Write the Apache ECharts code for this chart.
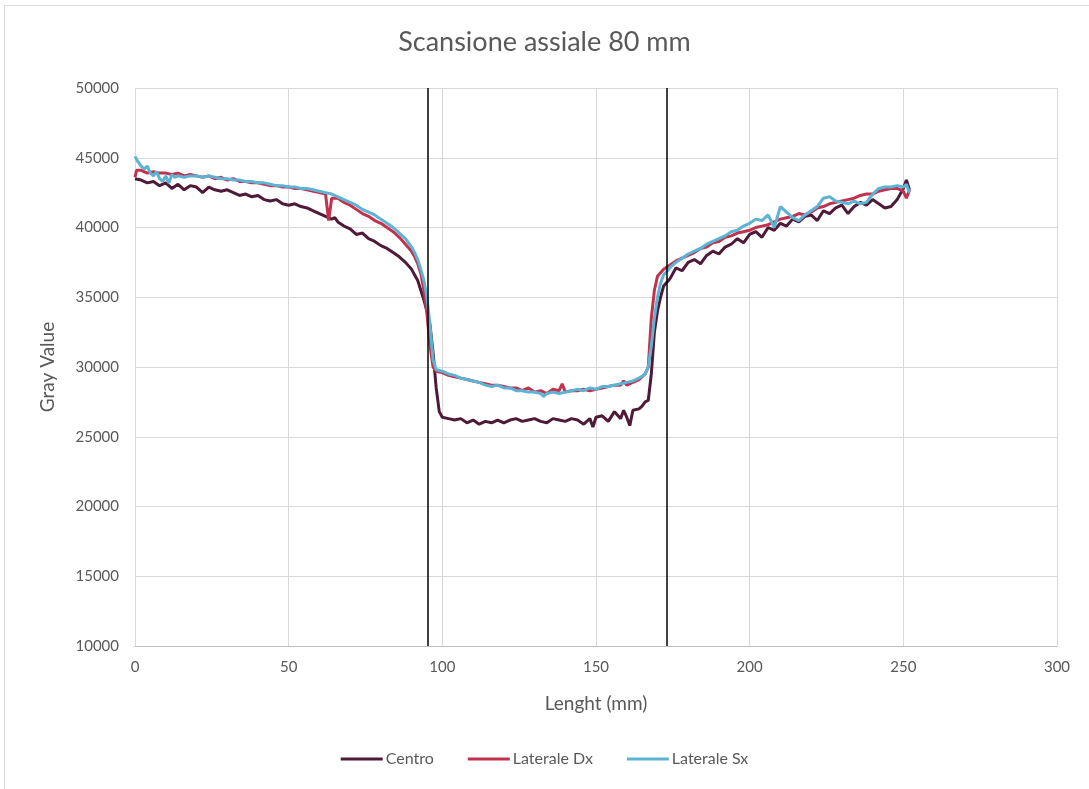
<!DOCTYPE html>
<html>
<head>
<meta charset="utf-8">
<script src="https://cdn.jsdelivr.net/npm/echarts@6/dist/echarts.min.js"></script>
<style>
  html, body { margin: 0; padding: 0; background: #fff; }
  #chart { width: 1089px; height: 789px; }
</style>
</head>
<body>
<div id="chart"></div>
<script>
// posizioni delle due linee verticali (mm)
var bordi = [95.3, 173.1];

// Centro
var centroX = [0,2,4,6,8,10,12,14,16,18,20,22,24,26,28,30,32,34,36,38,40,42,44,46,48,50,52,54,56,58,60,62,64,65,66,68,70,72,74,76,78,80,82,84,86,88,90,91,92,93,94,95,96,97,98,99,100,102,104,106,108,110,112,114,116,118,120,122,124,126,128,130,132,134,136,138,140,142,144,146,148,149,150,152,154,156,158,159,160,161,162,164,165,166,167,168,169,170,171,172,174,176,178,180,182,184,186,188,190,192,194,196,198,200,202,204,206,208,210,212,214,216,218,220,222,224,226,228,230,232,234,236,238,240,242,244,246,248,250,251,252];
var centroY = [43500,43400,43200,43300,43000,43200,42800,43100,42700,43000,42900,42500,42900,42700,42600,42700,42500,42300,42400,42200,42300,42000,41900,42000,41700,41600,41700,41500,41400,41200,41000,40800,40600,40700,40400,40100,39900,39500,39600,39200,39000,38700,38500,38200,37900,37500,37000,36600,36200,35500,34800,34000,33000,31000,28500,26800,26400,26300,26200,26300,26000,26200,25900,26100,26000,26200,26000,26200,26300,26100,26200,26300,26100,26000,26300,26200,26100,26300,26200,25900,26300,25700,26400,26500,26100,26800,26300,26900,26400,25800,26900,27000,27200,27500,27600,29500,32500,34000,35000,35800,36300,37100,36900,37500,37700,37400,38000,38300,38100,38600,38800,39200,38900,39500,39700,39300,40000,39800,40300,40100,40600,40400,40800,40900,40500,41200,41000,41400,41600,41000,41500,41800,41600,42000,41700,41400,41500,42000,42800,43400,42700];

// Laterale Dx
var dxX = [0,0.5,2,4,6,8,10,12,14,16,18,20,22,24,26,28,30,32,34,36,38,40,42,44,46,48,50,52,54,56,58,60,62,63,64,66,68,70,72,74,76,78,80,82,84,86,88,90,91,92,93,94,95,96,97,98,100,102,104,106,108,110,112,114,116,118,120,122,124,126,128,130,132,134,136,138,139,140,142,144,146,148,150,152,154,156,158,159,160,162,164,166,167,168,169,170,172,174,176,178,180,182,184,186,188,190,192,194,196,198,200,202,204,206,208,210,212,214,216,218,220,222,224,226,228,230,232,234,236,238,240,242,244,246,248,250,251,252];
var dxY = [43600,44100,44100,43900,44000,43900,43900,43800,43900,43700,43800,43700,43600,43700,43500,43600,43400,43500,43300,43300,43200,43200,43100,43000,43000,42900,42900,42800,42800,42700,42600,42500,42400,40500,42100,42100,41800,41600,41300,41000,40800,40500,40300,40000,39700,39300,38800,38300,37900,37400,36700,35500,33800,31500,30000,29700,29600,29400,29300,29200,29100,29000,28900,28800,28700,28700,28600,28500,28500,28300,28500,28200,28300,28100,28400,28300,28800,28200,28300,28300,28400,28300,28400,28500,28600,28700,28700,29000,28700,28900,29100,29500,30000,33500,35500,36500,37000,37300,37600,37800,38000,38200,38500,38600,38900,39000,39300,39400,39600,39700,39800,40000,40100,40200,40400,40600,40700,40800,41000,40900,41100,41400,41500,41700,41800,41900,42000,42100,42300,42400,42400,42600,42700,42800,42800,42600,42100,42700];

// Laterale Sx
var sxX = [0,1,2,3,4,5,6,7,8,9,10,11,12,13,14,16,18,20,22,24,26,28,30,32,34,36,38,40,42,44,46,48,50,52,54,56,58,60,62,64,66,68,70,72,74,76,78,80,82,84,86,88,90,91,92,93,94,95,96,97,98,100,102,104,106,108,110,112,114,116,118,120,122,124,126,128,130,132,133,134,136,138,140,142,144,146,148,150,152,154,156,158,160,162,164,166,167,168,169,170,171,172,174,176,178,180,182,184,186,188,190,192,194,196,198,200,202,204,206,208,210,212,214,216,218,220,222,224,226,228,230,232,234,236,238,240,242,244,246,248,250,251,252];
var sxY = [45100,44700,44400,44200,44400,43900,43700,44000,43500,43300,43700,43200,43800,43600,43700,43600,43700,43700,43600,43700,43600,43500,43500,43400,43400,43300,43300,43200,43200,43100,43000,43000,42900,42900,42800,42800,42700,42600,42500,42400,42200,42000,41800,41600,41300,41100,40900,40600,40300,40000,39600,39200,38600,38200,37700,37000,36200,35000,33000,30500,29800,29700,29500,29400,29200,29100,29000,28900,28700,28600,28700,28500,28500,28300,28300,28200,28200,28100,27900,28100,28200,28100,28200,28300,28400,28300,28500,28400,28600,28600,28700,28800,28900,29000,29200,29500,30000,31500,33500,35000,36000,36600,37100,37500,37800,38100,38300,38500,38800,39000,39200,39400,39700,39800,40100,40300,40600,40500,40900,40000,41500,41100,40700,40500,40900,41200,41500,42100,42200,41900,41800,41700,41900,41700,41800,42400,42800,42900,42900,43000,42900,43100,42500];

var seriesNames = ['Centro', 'Laterale Dx', 'Laterale Sx'];
var colori = ['#4e1a38', '#c1324e', '#5cb3d3'];

function coppie(xs, ys) {
  return xs.map(function (x, i) { return [x, ys[i]]; });
}

var chart = echarts.init(document.getElementById('chart'));
var testo = '#595959';
var font = 'Lato, "Open Sans", sans-serif';

chart.setOption({
  animation: false,
  textStyle: { fontFamily: font },
  graphic: [{
    type: 'rect',
    shape: { x: 4.5, y: 5.5, width: 1200, height: 1000 },
    style: { fill: 'none', stroke: '#d9d9d9', lineWidth: 1 },
    silent: true
  }],
  title: {
    text: 'Scansione assiale 80 mm',
    left: 'center',
    top: 24,
    textStyle: { color: testo, fontSize: 27, fontWeight: 'normal', fontFamily: font }
  },
  legend: {
    data: seriesNames,
    bottom: 17,
    left: 'center',
    icon: 'rect',
    itemWidth: 42,
    itemHeight: 3,
    itemGap: 34,
    textStyle: { color: testo, fontSize: 16, fontFamily: font, padding: [0, 0, 0, -2] }
  },
  grid: { left: 135, right: 32, top: 88, bottom: 143 },
  xAxis: {
    type: 'value',
    min: 0, max: 300, interval: 50,
    name: 'Lenght (mm)',
    nameLocation: 'middle',
    nameGap: 48,
    nameTextStyle: { color: testo, fontSize: 19 },
    axisLine: { show: true, lineStyle: { color: '#bfbfbf' } },
    axisTick: { show: false },
    axisLabel: { color: testo, fontSize: 15, margin: 14 },
    splitLine: { show: true, lineStyle: { color: '#d9d9d9' } }
  },
  yAxis: {
    type: 'value',
    min: 10000, max: 50000, interval: 5000,
    name: 'Gray Value',
    nameLocation: 'middle',
    nameGap: 78,
    nameTextStyle: { color: testo, fontSize: 19 },
    axisLine: { show: false },
    axisTick: { show: false },
    axisLabel: { color: testo, fontSize: 15, margin: 16, formatter: function (v) { return String(v); } },
    splitLine: { show: true, lineStyle: { color: '#d9d9d9' } }
  },
  series: [
    {
      name: seriesNames[0], type: 'line', data: coppie(centroX, centroY),
      showSymbol: false, color: colori[0], lineStyle: { width: 3 },
      markLine: {
        silent: true, symbol: 'none', label: { show: false },
        lineStyle: { color: '#000', width: 1.5, type: 'solid' },
        data: bordi.map(function (b) { return { xAxis: b }; })
      }
    },
    {
      name: seriesNames[1], type: 'line', data: coppie(dxX, dxY),
      showSymbol: false, color: colori[1], lineStyle: { width: 3 }
    },
    {
      name: seriesNames[2], type: 'line', data: coppie(sxX, sxY),
      showSymbol: false, color: colori[2], lineStyle: { width: 3 }
    }
  ]
});
</script>
</body>
</html>
